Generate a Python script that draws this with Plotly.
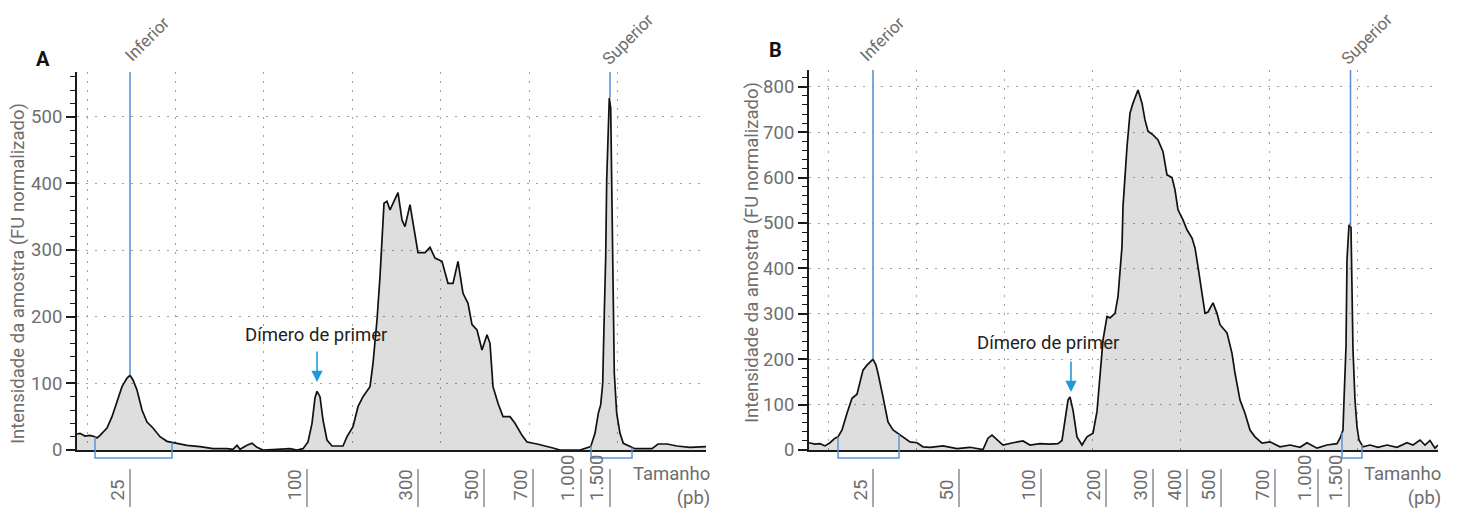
import numpy as np
import plotly.graph_objects as go

# ---------------- data ----------------
# Panel A: electropherogram (migration position, intensity in normalised FU)
a_pos = [0.0, 0.3, 0.8, 1.3, 1.8, 2.0, 2.3, 3.0, 3.5, 4.0, 4.5, 5.0, 5.3, 5.6, 6.0, 6.5,
         7.0, 7.6, 8.3, 9.0, 9.6, 11.0, 12.3, 13.6, 15.0, 15.6, 16.0, 16.3, 17.0, 17.5,
         18.0, 18.6, 20.0, 21.3, 22.0, 22.6, 23.1, 23.5, 23.8, 24.0, 24.3, 24.6, 25.0,
         25.5, 26.6, 27.0, 27.6, 28.1, 28.6, 29.3, 29.6, 30.0, 30.3, 30.5, 30.7, 31.0,
         31.3, 31.6, 32.1, 32.5, 32.8, 33.3, 33.6, 34.1, 34.8, 35.3, 35.8, 36.5, 37.1,
         37.6, 38.1, 38.6, 39.1, 39.5, 40.0, 40.5, 41.0, 41.3, 41.6, 42.1, 42.6, 43.3,
         43.8, 44.5, 45.0, 46.0, 47.6, 48.3, 50.3, 51.37, 51.8, 52.13, 52.37, 52.57,
         52.73, 52.87, 52.97, 53.13, 53.23, 53.37, 53.47, 53.57, 53.73, 53.97, 54.3,
         54.63, 55.3, 55.8, 57.5, 58.1, 59.0, 60.0, 61.3, 62.9]
a_fu = [24, 25, 21, 22, 20, 18, 22, 33, 50, 73, 95, 108, 112, 105, 90, 60,
        42, 33, 20, 13, 11, 7, 5, 2, 2, 1, 7, 1, 7, 10,
        4, 0, 1, 2, 0, 2, 12, 40, 78, 88, 80, 45, 15,
        6, 6, 20, 35, 65, 80, 95, 130, 195, 260, 315, 370, 373,
        360, 370, 386, 345, 335, 368, 340, 296, 296, 304, 288, 283, 250,
        250, 283, 235, 220, 188, 180, 150, 173, 160, 95, 70, 50, 50,
        40, 22, 12, 9, 3, 0, 0, 5, 25, 55, 68, 100,
        205, 290, 405, 480, 528, 513, 410, 255, 115, 55, 25,
        10, 5, 2, 2, 9, 9, 6, 4, 5]

# Panel B
b_pos = [0.0, 0.6, 1.1, 1.6, 2.1, 2.6, 2.9, 3.3, 3.8, 4.3, 4.8, 5.1, 5.4, 5.8, 6.4, 6.7,
         6.9, 7.4, 7.9, 8.4, 9.1, 9.6, 10.1, 10.8, 11.4, 12.1, 13.4, 14.8, 16.1, 17.4,
         17.9, 18.3, 18.8, 19.4, 20.4, 21.4, 22.1, 23.1, 24.1, 24.9, 25.3, 25.6, 25.9,
         26.1, 26.4, 26.8, 27.3, 27.8, 28.4, 28.8, 29.1, 29.4, 29.8, 30.1, 30.6, 30.9,
         31.3, 31.4, 31.8, 32.1, 32.4, 32.8, 32.9, 33.3, 33.6, 33.9, 34.4, 34.9, 35.4,
         35.8, 36.3, 36.6, 36.9, 37.4, 37.8, 38.3, 38.6, 38.9, 39.3, 39.6, 39.9, 40.4,
         40.8, 41.1, 41.8, 42.3, 42.6, 43.1, 43.6, 44.1, 44.6, 45.3, 46.1, 47.1, 48.1,
         49.1, 49.8, 50.8, 51.8, 52.8, 53.1, 53.4, 53.5, 53.7, 53.8, 54.0, 54.2, 54.3,
         54.4, 54.6, 54.8, 55.0, 55.4, 56.1, 56.9, 57.8, 58.8, 59.8, 60.4, 61.1, 61.6,
         62.1, 62.6, 62.9]
b_fu = [16, 13, 14, 9, 16, 26, 29, 44, 81, 114, 123, 147, 176, 187, 200, 187,
        169, 117, 62, 44, 33, 26, 18, 16, 7, 6, 9, 3, 6, 1,
        26, 33, 22, 11, 16, 20, 11, 14, 13, 14, 21, 66, 110,
        117, 88, 29, 11, 29, 37, 85, 169, 242, 294, 291, 301, 338,
        448, 536, 668, 742, 764, 790, 793, 764, 727, 702, 694, 683, 657,
        606, 600, 573, 529, 507, 485, 467, 445, 404, 346, 301, 304, 324,
        301, 276, 258, 213, 169, 110, 81, 44, 29, 15, 18, 7, 11,
        6, 16, 4, 11, 14, 26, 44, 110, 228, 419, 496, 490, 353,
        220, 110, 51, 22, 7, 11, 6, 11, 6, 16, 11, 22, 11,
        21, 4, 11]

# Size ladder labels (bp) and their migration positions
a_size_labels = ["25", "100", "300", "500", "700", "1.000", "1.500"]
a_size_pos = [5.3, 23.0, 34.1, 40.7, 45.6, 50.4, 53.3]
b_size_labels = ["25", "50", "100", "200", "300", "400", "500", "700", "1.000", "1.500"]
b_size_pos = [6.4, 15.0, 23.2, 29.7, 34.4, 37.8, 41.2, 46.6, 50.9, 54.0]

# Lower / upper marker positions and peak heights
a_markers = {"Inferior": (5.3, 112), "Superior": (53.3, 528)}
b_markers = {"Inferior": (6.4, 200), "Superior": (54.15, 493)}
# Marker integration brackets (start, end)
a_brackets = [(1.8, 9.5), (51.4, 55.5)]
b_brackets = [(2.9, 9.0), (53.3, 55.3)]
# Primer dimer arrow tips
a_dimer = (24.0, 102)
b_dimer = (26.2, 128)

# ---------------- styling ----------------
FONT = "Roboto"
FS = 18.5
GRAY_TXT = "#6e6e6e"
GRID = "#a3a3a3"
MARKER_BLUE = "#5e93d4"
ARROW_BLUE = "#1e9bd7"
FILL = "rgba(0,0,0,0.13)"

W, H = 1460, 508
Y_BOTTOM = 1 - 450 / H  # paper y of the zero line

panels = [
    dict(xa="x", ya="y", xdom=[77 / W, 706 / W], ydom=[Y_BOTTOM, 1 - 72 / H],
         yrange=[0, 567], tick0=1.0, dtick=8.84,
         pos=a_pos, fu=a_fu, labels=a_size_labels, lpos=a_size_pos,
         markers=a_markers, brackets=a_brackets, dimer=a_dimer,
         dimer_text=(23.9, 173), letter="A", letter_xy=(43, 59),
         ytitle_xy=(18, 274), size_right=712,
         mshift={"Inferior": 17, "Superior": 18}),
    dict(xa="x2", ya="y2", xdom=[809 / W, 1438 / W], ydom=[Y_BOTTOM, 1 - 70 / H],
         yrange=[0, 837], tick0=1.9, dtick=8.82,
         pos=b_pos, fu=b_fu, labels=b_size_labels, lpos=b_size_pos,
         markers=b_markers, brackets=b_brackets, dimer=b_dimer,
         dimer_text=(23.9, 236), letter="B", letter_xy=(775, 50),
         ytitle_xy=(752, 253), size_right=1443,
         mshift={"Inferior": 9, "Superior": 16}),
]

fig = go.Figure()
shapes = []
annotations = []
layout_axes = {}

for i, p in enumerate(panels):
    xa, ya = p["xa"], p["ya"]
    xname = "xaxis" if xa == "x" else "xaxis" + xa[1:]
    yname = "yaxis" if ya == "y" else "yaxis" + ya[1:]

    fig.add_trace(go.Scatter(
        x=p["pos"], y=p["fu"], xaxis=xa, yaxis=ya, mode="lines",
        line=dict(color="#111111", width=1.7), fill="tozeroy", fillcolor=FILL,
        hoverinfo="skip", showlegend=False))

    layout_axes[xname] = dict(
        domain=p["xdom"], range=[0, 62.9], anchor=ya, showticklabels=False,
        ticks="", tick0=p["tick0"], dtick=p["dtick"], showgrid=True,
        gridcolor=GRID, griddash="2px,7px", gridwidth=1.2, zeroline=False,
        showline=True, linecolor="#1a1a1a", linewidth=2, automargin=False)
    layout_axes[yname] = dict(
        domain=p["ydom"], range=p["yrange"], anchor=xa, dtick=100,
        ticks="outside", ticklen=9, tickwidth=1.5, tickcolor="#1a1a1a",
        minor=dict(dtick=20, ticks="outside", ticklen=5, tickwidth=1.2,
                   tickcolor="#1a1a1a", showgrid=False),
        tickfont=dict(family=FONT, size=FS, color=GRAY_TXT),
        showgrid=True, gridcolor=GRID, griddash="2px,7px", gridwidth=1.2,
        zeroline=False, showline=True, linecolor="#1a1a1a", linewidth=2,
        automargin=False)

    # size ladder: rotated labels with a short rule to their right
    for lab, xp in zip(p["labels"], p["lpos"]):
        shapes.append(dict(type="line", xref=xa, yref="paper", x0=xp, x1=xp,
                           y0=1 - 469 / H, y1=1 - 507 / H,
                           line=dict(color="#8c8c8c", width=1.5)))
        annotations.append(dict(x=xp, y=1 - 503 / H, xref=xa, yref="paper",
                                text=lab, showarrow=False, textangle=-90,
                                xanchor="right", yanchor="bottom", xshift=0,
                                font=dict(family=FONT, size=FS, color=GRAY_TXT)))

    # lower / upper marker lines and their labels
    for name, (mx, my) in p["markers"].items():
        shapes.append(dict(type="line", xref=xa, yref=ya, x0=mx, x1=mx,
                           y0=my, y1=p["yrange"][1],
                           line=dict(color=MARKER_BLUE, width=1.6), layer="above"))
        annotations.append(dict(x=mx, y=1 - 39 / H, xref=xa, yref="paper",
                                text=name, showarrow=False, textangle=-45,
                                xanchor="center", yanchor="middle",
                                xshift=p["mshift"][name],
                                font=dict(family=FONT, size=17, color=GRAY_TXT)))

    # marker brackets below the baseline
    for bx0, bx1 in p["brackets"]:
        h0 = float(np.interp(bx0, p["pos"], p["fu"]))
        h1 = float(np.interp(bx1, p["pos"], p["fu"]))
        for bx, hh in ((bx0, h0), (bx1, h1)):
            shapes.append(dict(type="line", xref=xa, yref=ya, x0=bx, x1=bx,
                               y0=0, y1=hh, layer="above",
                               line=dict(color=MARKER_BLUE, width=1.5)))
        ybot = 1 - 458 / H
        shapes.append(dict(type="path", xref=xa, yref="paper", layer="above",
                           path=f"M {bx0},{Y_BOTTOM} L {bx0},{ybot} L {bx1},{ybot} L {bx1},{Y_BOTTOM}",
                           line=dict(color=MARKER_BLUE, width=1.5)))

    # primer dimer call-out
    dx, dy = p["dimer"]
    annotations.append(dict(x=dx, y=dy, xref=xa, yref=ya, text="",
                            showarrow=True, ax=0, ay=-32, arrowhead=2,
                            arrowsize=1.4, arrowwidth=1.6, arrowcolor=ARROW_BLUE))
    tx, ty = p["dimer_text"]
    annotations.append(dict(x=tx, y=ty, xref=xa, yref=ya, text="Dímero de primer",
                            showarrow=False, xanchor="center", yanchor="middle",
                            font=dict(family=FONT, size=FS, color="#222222")))

    # panel letter
    lx, ly = p["letter_xy"]
    annotations.append(dict(x=lx / W, y=1 - ly / H, xref="paper", yref="paper",
                            text="<b>" + p["letter"] + "</b>", showarrow=False,
                            xanchor="center", yanchor="middle",
                            font=dict(family=FONT, size=20, color="#111111")))

    # y-axis title
    tx, ty = p["ytitle_xy"]
    annotations.append(dict(x=tx / W, y=1 - ty / H, xref="paper", yref="paper",
                            text="Intensidade da amostra (FU normalizado)",
                            showarrow=False, textangle=-90,
                            xanchor="center", yanchor="middle",
                            font=dict(family=FONT, size=FS, color=GRAY_TXT)))

    # x-axis title
    annotations.append(dict(x=p["size_right"] / W, y=1 - 461 / H, xref="paper",
                            yref="paper", text="Tamanho<br>(pb)", align="right",
                            showarrow=False, xanchor="right", yanchor="top",
                            font=dict(family=FONT, size=FS, color=GRAY_TXT)))

fig.update_layout(
    width=W, height=H,
    margin=dict(l=0, r=0, t=0, b=0, pad=0, autoexpand=False),
    paper_bgcolor="white", plot_bgcolor="white", showlegend=False,
    font=dict(family=FONT), shapes=shapes, annotations=annotations,
    **layout_axes)

fig.write_html("out.html")
